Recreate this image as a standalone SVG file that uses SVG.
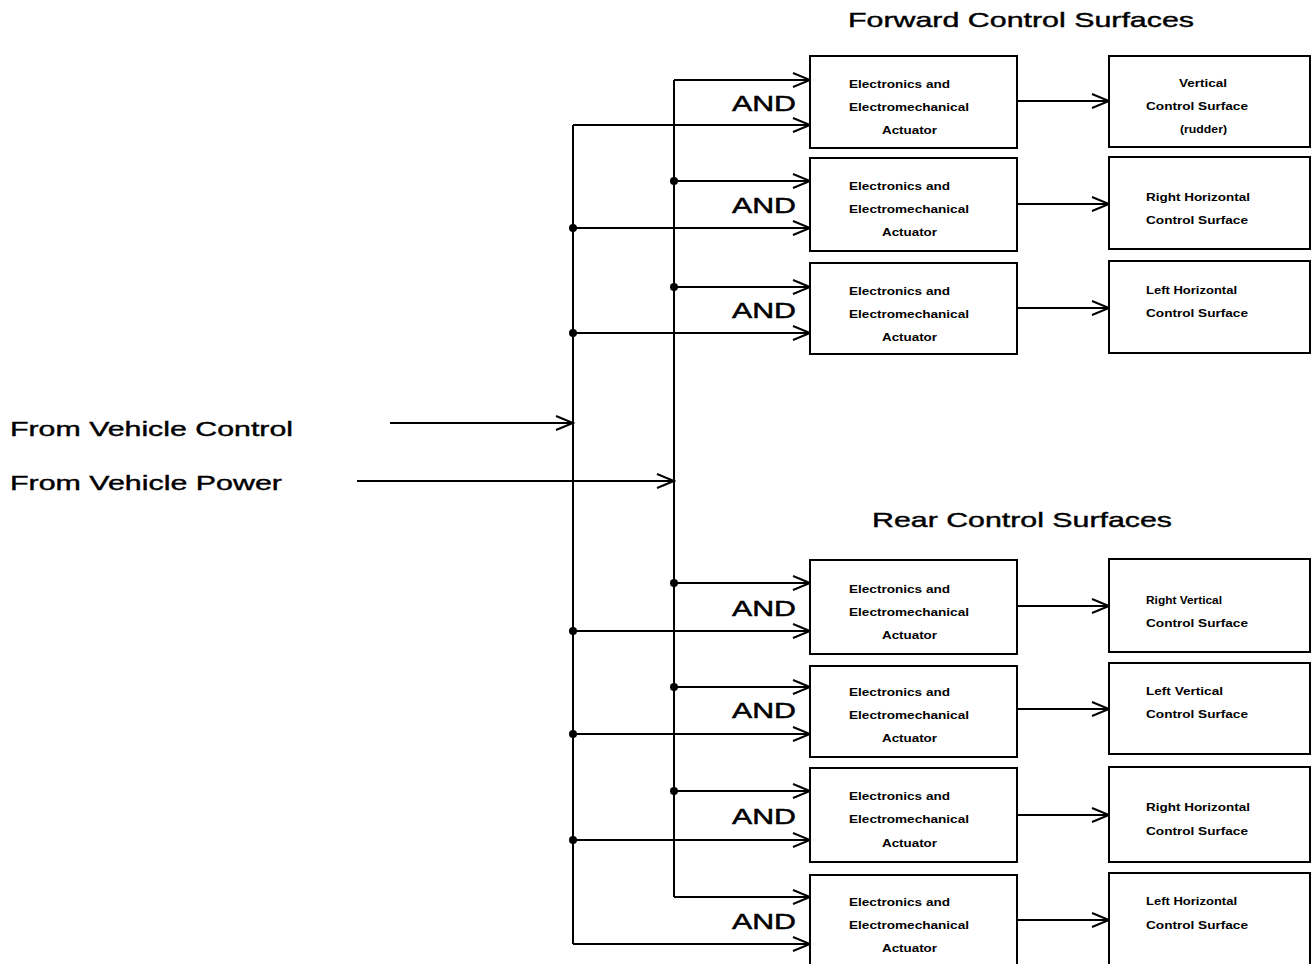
<svg xmlns="http://www.w3.org/2000/svg" width="1315" height="964" viewBox="0 0 1315 964">
<style>
text{font-family:"Liberation Sans",Arial,sans-serif;fill:#000}
.t{font-size:21px;stroke:#000;stroke-width:0.4}
.and{font-size:22px;stroke:#000;stroke-width:0.5}
.s{font-size:11px;font-weight:bold}
.box{fill:#fff;stroke:#000;stroke-width:2}
.w{fill:none;stroke:#000;stroke-width:2}
.a{fill:none;stroke:#000;stroke-width:2;marker-end:url(#arr)}
</style>
<defs>
<marker id="arr" viewBox="0 0 20 16" refX="18" refY="8" markerWidth="20" markerHeight="16" markerUnits="userSpaceOnUse" orient="auto">
<path d="M1,1 L18,8 L1,15" fill="none" stroke="#000" stroke-width="2"/>
</marker>
</defs>
<rect width="1315" height="964" fill="#fff"/>

<g id="titles">
<text class="t" x="848" y="27" textLength="346" lengthAdjust="spacingAndGlyphs">Forward Control Surfaces</text>
<text class="t" x="872" y="527" textLength="300" lengthAdjust="spacingAndGlyphs">Rear Control Surfaces</text>
<text class="t" x="10" y="436" textLength="283" lengthAdjust="spacingAndGlyphs">From Vehicle Control</text>
<text class="t" x="10" y="490" textLength="272" lengthAdjust="spacingAndGlyphs">From Vehicle Power</text>
</g>

<g id="connectors">
<path class="a" d="M390,423 H573"/>
<path class="a" d="M357,481 H674"/>
<path class="w" d="M573,125 V944"/>
<path class="w" d="M674,80 V897"/>
<path class="a" d="M674,80 H810"/>
<path class="a" d="M573,125 H810"/>
<path class="a" d="M674,181 H810"/>
<path class="a" d="M573,228 H810"/>
<path class="a" d="M674,287 H810"/>
<path class="a" d="M573,333 H810"/>
<path class="a" d="M674,583 H810"/>
<path class="a" d="M573,631 H810"/>
<path class="a" d="M674,687 H810"/>
<path class="a" d="M573,734 H810"/>
<path class="a" d="M674,791 H810"/>
<path class="a" d="M573,840 H810"/>
<path class="a" d="M674,897 H810"/>
<path class="a" d="M573,944 H810"/>
<path class="a" d="M1017,101 H1109"/>
<path class="a" d="M1017,204 H1109"/>
<path class="a" d="M1017,308 H1109"/>
<path class="a" d="M1017,606 H1109"/>
<path class="a" d="M1017,709 H1109"/>
<path class="a" d="M1017,815 H1109"/>
<path class="a" d="M1017,920 H1109"/>
<g fill="#000">
<circle cx="674" cy="181" r="4"/>
<circle cx="674" cy="287" r="4"/>
<circle cx="674" cy="583" r="4"/>
<circle cx="674" cy="687" r="4"/>
<circle cx="674" cy="791" r="4"/>
<circle cx="573" cy="228" r="4"/>
<circle cx="573" cy="333" r="4"/>
<circle cx="573" cy="631" r="4"/>
<circle cx="573" cy="734" r="4"/>
<circle cx="573" cy="840" r="4"/>
</g>
<g class="and-labels">
<text class="and" x="732" y="111" textLength="64" lengthAdjust="spacingAndGlyphs">AND</text>
<text class="and" x="732" y="213" textLength="64" lengthAdjust="spacingAndGlyphs">AND</text>
<text class="and" x="732" y="318" textLength="64" lengthAdjust="spacingAndGlyphs">AND</text>
<text class="and" x="732" y="616" textLength="64" lengthAdjust="spacingAndGlyphs">AND</text>
<text class="and" x="732" y="718" textLength="64" lengthAdjust="spacingAndGlyphs">AND</text>
<text class="and" x="732" y="824" textLength="64" lengthAdjust="spacingAndGlyphs">AND</text>
<text class="and" x="732" y="929" textLength="64" lengthAdjust="spacingAndGlyphs">AND</text>
</g>
</g>

<g id="act1">
<rect class="box" x="810" y="56" width="207" height="92"/>
<text class="s" x="849" y="88" textLength="101" lengthAdjust="spacingAndGlyphs">Electronics and</text>
<text class="s" x="849" y="111" textLength="120" lengthAdjust="spacingAndGlyphs">Electromechanical</text>
<text class="s" x="882" y="134" textLength="55" lengthAdjust="spacingAndGlyphs">Actuator</text>
</g>
<g id="act2">
<rect class="box" x="810" y="158" width="207" height="93"/>
<text class="s" x="849" y="190" textLength="101" lengthAdjust="spacingAndGlyphs">Electronics and</text>
<text class="s" x="849" y="213" textLength="120" lengthAdjust="spacingAndGlyphs">Electromechanical</text>
<text class="s" x="882" y="236" textLength="55" lengthAdjust="spacingAndGlyphs">Actuator</text>
</g>
<g id="act3">
<rect class="box" x="810" y="263" width="207" height="91"/>
<text class="s" x="849" y="295" textLength="101" lengthAdjust="spacingAndGlyphs">Electronics and</text>
<text class="s" x="849" y="318" textLength="120" lengthAdjust="spacingAndGlyphs">Electromechanical</text>
<text class="s" x="882" y="341" textLength="55" lengthAdjust="spacingAndGlyphs">Actuator</text>
</g>
<g id="act4">
<rect class="box" x="810" y="560" width="207" height="94"/>
<text class="s" x="849" y="593" textLength="101" lengthAdjust="spacingAndGlyphs">Electronics and</text>
<text class="s" x="849" y="616" textLength="120" lengthAdjust="spacingAndGlyphs">Electromechanical</text>
<text class="s" x="882" y="639" textLength="55" lengthAdjust="spacingAndGlyphs">Actuator</text>
</g>
<g id="act5">
<rect class="box" x="810" y="666" width="207" height="91"/>
<text class="s" x="849" y="696" textLength="101" lengthAdjust="spacingAndGlyphs">Electronics and</text>
<text class="s" x="849" y="719" textLength="120" lengthAdjust="spacingAndGlyphs">Electromechanical</text>
<text class="s" x="882" y="742" textLength="55" lengthAdjust="spacingAndGlyphs">Actuator</text>
</g>
<g id="act6">
<rect class="box" x="810" y="768" width="207" height="94"/>
<text class="s" x="849" y="800" textLength="101" lengthAdjust="spacingAndGlyphs">Electronics and</text>
<text class="s" x="849" y="823" textLength="120" lengthAdjust="spacingAndGlyphs">Electromechanical</text>
<text class="s" x="882" y="847" textLength="55" lengthAdjust="spacingAndGlyphs">Actuator</text>
</g>
<g id="act7">
<rect class="box" x="810" y="875" width="207" height="100"/>
<text class="s" x="849" y="906" textLength="101" lengthAdjust="spacingAndGlyphs">Electronics and</text>
<text class="s" x="849" y="929" textLength="120" lengthAdjust="spacingAndGlyphs">Electromechanical</text>
<text class="s" x="882" y="952" textLength="55" lengthAdjust="spacingAndGlyphs">Actuator</text>
</g>

<g id="surf1">
<rect class="box" x="1109" y="56" width="201" height="91"/>
<text class="s" x="1179" y="87" textLength="48" lengthAdjust="spacingAndGlyphs">Vertical</text>
<text class="s" x="1146" y="110" textLength="102" lengthAdjust="spacingAndGlyphs">Control Surface</text>
<text class="s" x="1180" y="133" textLength="47" lengthAdjust="spacingAndGlyphs">(rudder)</text>
</g>
<g id="surf2">
<rect class="box" x="1109" y="157" width="201" height="92"/>
<text class="s" x="1146" y="201" textLength="104" lengthAdjust="spacingAndGlyphs">Right Horizontal</text>
<text class="s" x="1146" y="224" textLength="102" lengthAdjust="spacingAndGlyphs">Control Surface</text>
</g>
<g id="surf3">
<rect class="box" x="1109" y="261" width="201" height="92"/>
<text class="s" x="1146" y="294" textLength="91" lengthAdjust="spacingAndGlyphs">Left Horizontal</text>
<text class="s" x="1146" y="317" textLength="102" lengthAdjust="spacingAndGlyphs">Control Surface</text>
</g>
<g id="surf4">
<rect class="box" x="1109" y="559" width="201" height="93"/>
<text class="s" x="1146" y="604" textLength="76" lengthAdjust="spacingAndGlyphs">Right Vertical</text>
<text class="s" x="1146" y="627" textLength="102" lengthAdjust="spacingAndGlyphs">Control Surface</text>
</g>
<g id="surf5">
<rect class="box" x="1109" y="663" width="201" height="91"/>
<text class="s" x="1146" y="695" textLength="77" lengthAdjust="spacingAndGlyphs">Left Vertical</text>
<text class="s" x="1146" y="718" textLength="102" lengthAdjust="spacingAndGlyphs">Control Surface</text>
</g>
<g id="surf6">
<rect class="box" x="1109" y="767" width="201" height="95"/>
<text class="s" x="1146" y="811" textLength="104" lengthAdjust="spacingAndGlyphs">Right Horizontal</text>
<text class="s" x="1146" y="835" textLength="102" lengthAdjust="spacingAndGlyphs">Control Surface</text>
</g>
<g id="surf7">
<rect class="box" x="1109" y="873" width="201" height="100"/>
<text class="s" x="1146" y="905" textLength="91" lengthAdjust="spacingAndGlyphs">Left Horizontal</text>
<text class="s" x="1146" y="929" textLength="102" lengthAdjust="spacingAndGlyphs">Control Surface</text>
</g>
</svg>
